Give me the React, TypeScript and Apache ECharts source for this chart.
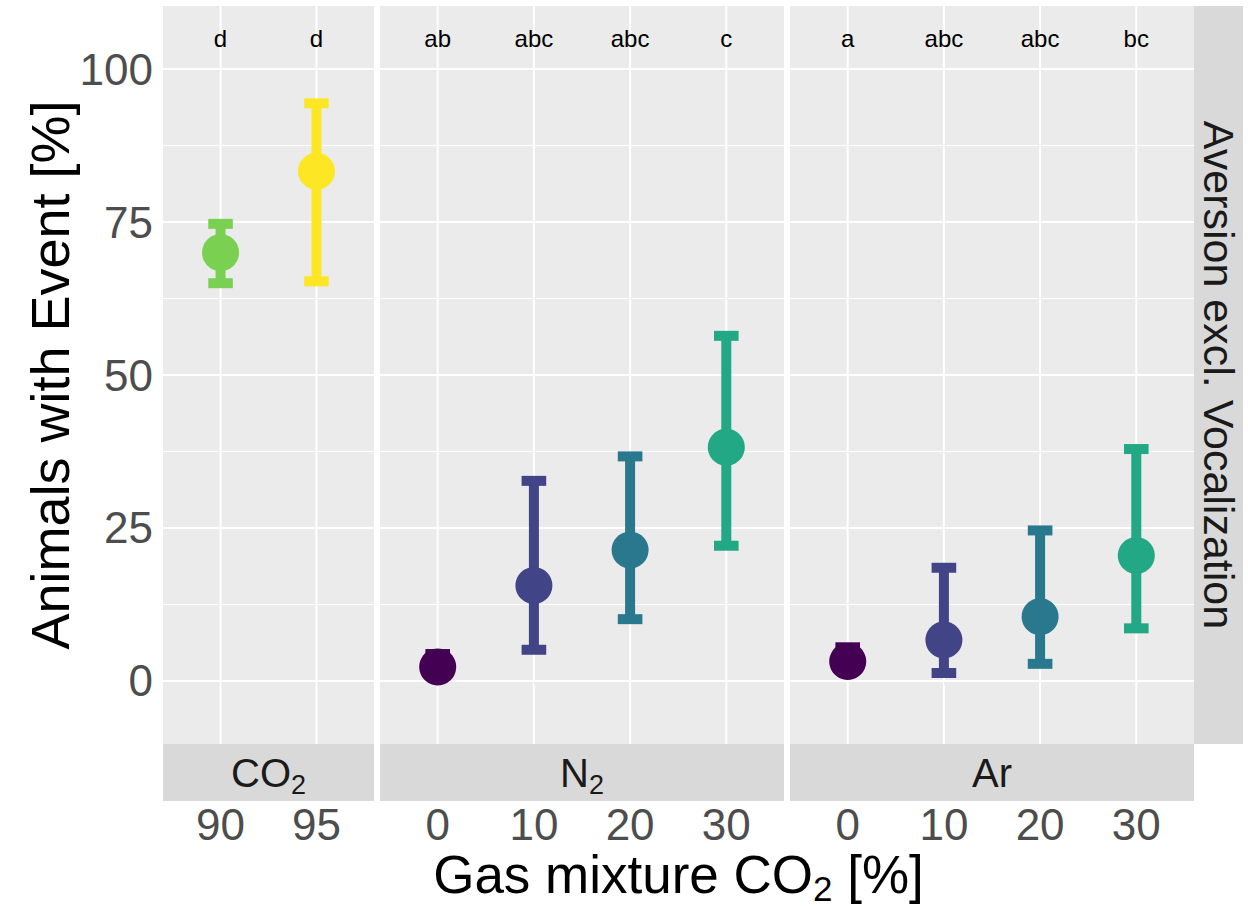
import React, { useEffect, useRef } from "react";
import * as echarts from "echarts";

// ---- data ----
const co2Levels = ["90", "95"];
const co2Mean = [70.0, 83.3];
const co2Lower = [65.0, 65.3];
const co2Upper = [74.7, 94.4];
const co2Letters = ["d", "d"];
const co2Colors = ["#7AD151", "#FDE725"];

const mixLevels = ["0", "10", "20", "30"];
const mixColors = ["#440154", "#414487", "#2A788E", "#22A884"];

const n2Mean = [2.3, 15.6, 21.4, 38.2];
const n2Lower = [1.0, 5.1, 10.1, 22.1];
const n2Upper = [4.4, 32.7, 36.7, 56.4];
const n2Letters = ["ab", "abc", "abc", "c"];

const arMean = [3.2, 6.7, 10.5, 20.5];
const arLower = [2.0, 1.3, 2.8, 8.6];
const arUpper = [5.5, 18.5, 24.6, 37.9];
const arLetters = ["a", "abc", "abc", "bc"];

const yTicks = [0, 25, 50, 75, 100];
const yMinor = [12.5, 37.5, 62.5, 87.5];
const letterY = 105;
const yMin = -10.3;
const yMax = 110.3;

// ---- layout ----
const FONT = '"Liberation Sans", Arial, Helvetica, sans-serif';
const PANEL_TOP = 6;
const PANEL_H = 738;
const STRIP_H = 57;
const UNIT = 96.1; // px per category step
const GAP = 6;
const FIRST_LEFT = 163;

type Panel = {
  name: string;
  sub: string;
  levels: string[];
  mean: number[];
  lower: number[];
  upper: number[];
  letters: string[];
  colors: string[];
};

const panels: Panel[] = [
  { name: "CO", sub: "2", levels: co2Levels, mean: co2Mean, lower: co2Lower, upper: co2Upper, letters: co2Letters, colors: co2Colors },
  { name: "N", sub: "2", levels: mixLevels, mean: n2Mean, lower: n2Lower, upper: n2Upper, letters: n2Letters, colors: mixColors },
  { name: "Ar", sub: "", levels: mixLevels, mean: arMean, lower: arLower, upper: arUpper, letters: arLetters, colors: mixColors },
];

function panelRects() {
  const rects: { left: number; width: number }[] = [];
  let left = FIRST_LEFT;
  panels.forEach((p) => {
    const width = Math.round((p.levels.length + 0.2) * UNIT);
    rects.push({ left, width });
    left += width + GAP;
  });
  return rects;
}

function buildOption(): echarts.EChartsOption {
  const rects = panelRects();
  const grids: any[] = [];
  const xAxes: any[] = [];
  const yAxes: any[] = [];
  const series: any[] = [];
  const graphics: any[] = [];

  panels.forEach((p, i) => {
    const r = rects[i];
    const idx = p.levels.map((_, k) => k);
    grids.push({
      left: r.left,
      top: PANEL_TOP,
      width: r.width,
      height: PANEL_H,
      show: true,
      backgroundColor: "#EBEBEB",
      borderWidth: 0,
      containLabel: false,
    });
    xAxes.push({
      type: "value",
      gridIndex: i,
      min: -0.6,
      max: p.levels.length - 0.4,
      position: "bottom",
      offset: STRIP_H,
      axisLine: { show: false },
      splitLine: { show: false },
      axisTick: { show: true, customValues: idx, length: 4, lineStyle: { color: "#333333", width: 1 } },
      axisLabel: {
        show: true,
        customValues: idx,
        formatter: (v: number) => p.levels[Math.round(v)],
        fontSize: 44,
        fontFamily: FONT,
        color: "#4D4D4D",
        margin: 1,
      },
    });
    yAxes.push({
      type: "value",
      gridIndex: i,
      min: yMin,
      max: yMax,
      axisLine: { show: false },
      splitLine: { show: false },
      axisTick: i === 0
        ? { show: true, customValues: yTicks, length: 4, lineStyle: { color: "#333333", width: 1 } }
        : { show: false },
      axisLabel: i === 0
        ? { show: true, customValues: yTicks, fontSize: 44, fontFamily: FONT, color: "#4D4D4D", margin: 10 }
        : { show: false },
    });

    // panel grid lines: [value, orientation (0 = horizontal, 1 = vertical), width]
    const gridData = [
      ...yMinor.map((v) => [v, 0, 1]),
      ...yTicks.map((v) => [v, 0, 2]),
      ...idx.map((k) => [k, 1, 2]),
    ];
    series.push({
      type: "custom",
      xAxisIndex: i,
      yAxisIndex: i,
      silent: true,
      z: 1,
      data: gridData,
      renderItem: (params: any, api: any) => {
        const cs = params.coordSys;
        const v = api.value(0);
        const kind = api.value(1);
        const w = api.value(2);
        if (kind === 0) {
          const y = api.coord([0, v])[1];
          return {
            type: "line",
            shape: { x1: cs.x, y1: y, x2: cs.x + cs.width, y2: y },
            style: { stroke: "#FFFFFF", lineWidth: w },
          };
        }
        const x = api.coord([v, 0])[0];
        return {
          type: "line",
          shape: { x1: x, y1: cs.y, x2: x, y2: cs.y + cs.height },
          style: { stroke: "#FFFFFF", lineWidth: w },
        };
      },
    });

    // error bars with mean points
    series.push({
      type: "custom",
      xAxisIndex: i,
      yAxisIndex: i,
      z: 3,
      data: idx.map((k) => [k, p.mean[k], p.lower[k], p.upper[k]]),
      renderItem: (params: any, api: any) => {
        const k = api.value(0);
        const color = p.colors[params.dataIndex];
        const c = api.coord([k, api.value(1)]);
        const lo = api.coord([k, api.value(2)]);
        const hi = api.coord([k, api.value(3)]);
        const capL = api.coord([k - 0.128, 0])[0];
        const capR = api.coord([k + 0.128, 0])[0];
        const st = { stroke: color, lineWidth: 10, lineCap: "butt" };
        return {
          type: "group",
          children: [
            { type: "line", shape: { x1: c[0], y1: lo[1], x2: c[0], y2: hi[1] }, style: st },
            { type: "line", shape: { x1: capL, y1: hi[1], x2: capR, y2: hi[1] }, style: st },
            { type: "line", shape: { x1: capL, y1: lo[1], x2: capR, y2: lo[1] }, style: st },
            { type: "circle", shape: { cx: c[0], cy: c[1], r: 18.5 }, style: { fill: color } },
          ],
        };
      },
    });

    // significance letters
    series.push({
      type: "custom",
      xAxisIndex: i,
      yAxisIndex: i,
      z: 4,
      silent: true,
      data: idx.map((k) => [k, letterY]),
      renderItem: (params: any, api: any) => {
        const pt = api.coord([api.value(0), api.value(1)]);
        return {
          type: "text",
          x: pt[0],
          y: pt[1],
          style: {
            text: p.letters[params.dataIndex],
            fontSize: 24,
            fontFamily: FONT,
            fill: "#000000",
            align: "center",
            verticalAlign: "middle",
          },
        };
      },
    });

    // bottom facet strip
    graphics.push({
      type: "rect",
      shape: { x: r.left, y: PANEL_TOP + PANEL_H, width: r.width, height: STRIP_H },
      style: { fill: "#D9D9D9" },
      silent: true,
    });
    graphics.push({
      type: "text",
      x: r.left + r.width / 2,
      y: PANEL_TOP + PANEL_H + STRIP_H / 2,
      style: {
        text: p.sub ? `{n|${p.name}}{s|${p.sub}}` : `{n|${p.name}}`,
        align: "center",
        verticalAlign: "middle",
        rich: {
          n: { fontSize: 40, lineHeight: 48, fontFamily: FONT, fill: "#1A1A1A" },
          s: { fontSize: 27, lineHeight: 27, padding: [24, 0, 0, 0], fontFamily: FONT, fill: "#1A1A1A" },
        },
      },
      silent: true,
    });
  });

  const last = rects[rects.length - 1];
  const stripX = last.left + last.width;
  graphics.push({
    type: "rect",
    shape: { x: stripX, y: PANEL_TOP, width: 49, height: PANEL_H },
    style: { fill: "#D9D9D9" },
    silent: true,
  });
  graphics.push({
    type: "text",
    x: stripX + 24.5,
    y: PANEL_TOP + PANEL_H / 2,
    rotation: -Math.PI / 2,
    style: {
      text: "Aversion excl. Vocalization",
      fontSize: 43,
      fontFamily: FONT,
      fill: "#1A1A1A",
      align: "center",
      verticalAlign: "middle",
    },
    silent: true,
  });

  // axis titles
  graphics.push({
    type: "text",
    x: 50,
    y: PANEL_TOP + PANEL_H / 2,
    rotation: Math.PI / 2,
    style: {
      text: "Animals with Event [%]",
      fontSize: 54,
      fontFamily: FONT,
      fill: "#000000",
      align: "center",
      verticalAlign: "middle",
    },
    silent: true,
  });
  graphics.push({
    type: "text",
    x: (FIRST_LEFT + stripX) / 2,
    y: 874,
    style: {
      text: "{n|Gas mixture CO}{s|2}{n| [%]}",
      align: "center",
      verticalAlign: "middle",
      rich: {
        n: { fontSize: 53, lineHeight: 53, fontFamily: FONT, fill: "#000000" },
        s: { fontSize: 35, lineHeight: 28, padding: [28, 0, 0, 0], fontFamily: FONT, fill: "#000000" },
      },
    },
    silent: true,
  });

  return {
    animation: false,
    backgroundColor: "#FFFFFF",
    grid: grids,
    xAxis: xAxes,
    yAxis: yAxes,
    series,
    graphic: { elements: graphics },
  };
}

export default function App() {
  const ref = useRef<HTMLDivElement>(null);
  useEffect(() => {
    if (!ref.current) return;
    const chart = echarts.init(ref.current, null, { renderer: "svg" });
    chart.setOption(buildOption());
    return () => chart.dispose();
  }, []);
  return (
    <div
      ref={ref}
      style={{ position: "fixed", left: 0, top: 0, width: 1248, height: 906 }}
    />
  );
}
